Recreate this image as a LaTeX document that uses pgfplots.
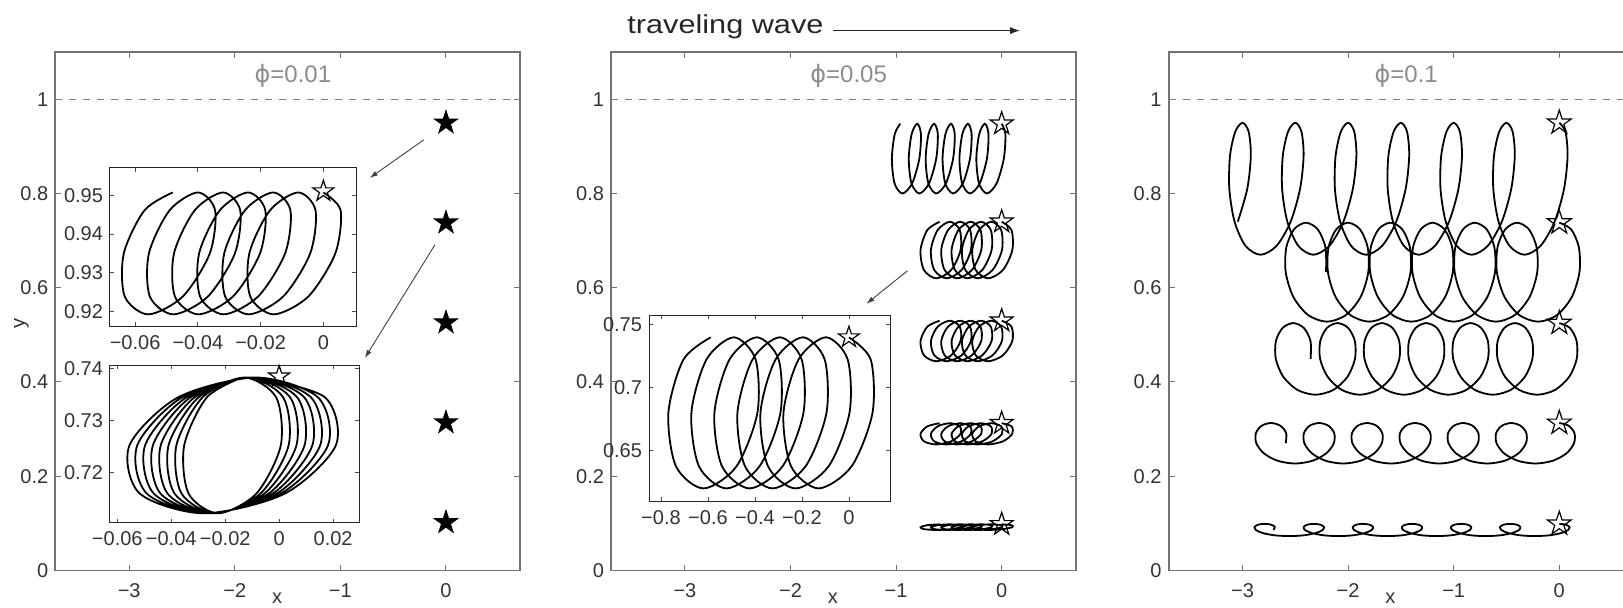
\documentclass[border=0pt]{standalone}
\usepackage{pgfplots}
\pgfplotsset{compat=1.18}
\usepackage{pgfplotstable}
\usepackage{graphicx}
\usepackage{fontspec}
\setmainfont{Liberation Sans}
\newfontfamily\dvs{DejaVu Sans}
\usetikzlibrary{arrows.meta}

\newcommand\starpath{%
 \pgfpathmoveto{\pgfqpoint{0pt}{\pgfplotmarksize}}%
 \pgfpathlineto{\pgfqpoint{0.2245\pgfplotmarksize}{0.3090\pgfplotmarksize}}%
 \pgfpathlineto{\pgfqpoint{0.9511\pgfplotmarksize}{0.3090\pgfplotmarksize}}%
 \pgfpathlineto{\pgfqpoint{0.3633\pgfplotmarksize}{-0.1180\pgfplotmarksize}}%
 \pgfpathlineto{\pgfqpoint{0.5878\pgfplotmarksize}{-0.8090\pgfplotmarksize}}%
 \pgfpathlineto{\pgfqpoint{0pt}{-0.382\pgfplotmarksize}}%
 \pgfpathlineto{\pgfqpoint{-0.5878\pgfplotmarksize}{-0.8090\pgfplotmarksize}}%
 \pgfpathlineto{\pgfqpoint{-0.3633\pgfplotmarksize}{-0.1180\pgfplotmarksize}}%
 \pgfpathlineto{\pgfqpoint{-0.9511\pgfplotmarksize}{0.3090\pgfplotmarksize}}%
 \pgfpathlineto{\pgfqpoint{-0.2245\pgfplotmarksize}{0.3090\pgfplotmarksize}}%
 \pgfpathclose}
\pgfdeclareplotmark{pstar}{\starpath\pgfusepathqfillstroke}
\pgfdeclareplotmark{ostar}{\starpath\pgfusepathqstroke}

\tikzset{
 ttl/.style={text=black!45, font=\fontsize{12}{14}\selectfont},
 lbl/.style={text=black!80, font=\fontsize{10}{12}\selectfont},
}
\pgfplotsset{
 mainax/.style={scale only axis, width=232.3pt, height=259.2pt, anchor=south west,
   clip=false,
   xmin=-3.7, xmax=0.7, ymin=0, ymax=1.1,
   xtick={-3,-2,-1,0}, xticklabels={−3,−2,−1,0},
   ytick={0,0.2,0.4,0.6,0.8,1}, yticklabels={0,0.2,0.4,0.6,0.8,1},
   tick align=inside, major tick length=3pt,
   axis line style={black!55, line width=0.9pt},
   tick style={black!55, line width=0.5pt},
   tick label style={font=\fontsize{10}{12}\selectfont, text=black!80},
   xticklabel style={yshift=-3pt},
 },
 insetax/.style={scale only axis, anchor=south west, clip=false,
   scaled ticks=false,
   axis background/.style={fill=white},
   tick align=inside, major tick length=2pt,
   axis line style={black!85, line width=0.5pt},
   tick style={black!70, line width=0.4pt},
   tick label style={font=\fontsize{10}{12}\selectfont, text=black!80},
   xticklabel style={yshift=-1pt},
 },
 traj/.style={black, line width=0.9pt, smooth, no markers},
 dashone/.style={black!50, line width=0.5pt, dash pattern=on 3.5pt off 3.5pt},
}

% panel 2: common x for trajectories 2-5, y for each
\pgfplotstableread[row sep=\\]{
x y2 y3 y4 y5\\
0 0.74 0.53 0.3125 0.098\\
0.0928 0.7224 0.5174 0.3059 0.0962\\
0.1005 0.68 0.487 0.29 0.092\\
0.0117 0.6376 0.4566 0.2741 0.0878\\
-0.129 0.62 0.444 0.2675 0.086\\
-0.2463 0.6376 0.4566 0.2741 0.0878\\
-0.2785 0.68 0.487 0.29 0.092\\
-0.2142 0.7224 0.5174 0.3059 0.0962\\
-0.098 0.74 0.53 0.3125 0.098\\
-0.0052 0.7224 0.5174 0.3059 0.0962\\
0.0025 0.68 0.487 0.29 0.092\\
-0.0863 0.6376 0.4566 0.2741 0.0878\\
-0.227 0.62 0.444 0.2675 0.086\\
-0.3443 0.6376 0.4566 0.2741 0.0878\\
-0.3765 0.68 0.487 0.29 0.092\\
-0.3122 0.7224 0.5174 0.3059 0.0962\\
-0.196 0.74 0.53 0.3125 0.098\\
-0.1032 0.7224 0.5174 0.3059 0.0962\\
-0.0955 0.68 0.487 0.29 0.092\\
-0.1843 0.6376 0.4566 0.2741 0.0878\\
-0.325 0.62 0.444 0.2675 0.086\\
-0.4423 0.6376 0.4566 0.2741 0.0878\\
-0.4745 0.68 0.487 0.29 0.092\\
-0.4102 0.7224 0.5174 0.3059 0.0962\\
-0.294 0.74 0.53 0.3125 0.098\\
-0.2012 0.7224 0.5174 0.3059 0.0962\\
-0.1935 0.68 0.487 0.29 0.092\\
-0.2823 0.6376 0.4566 0.2741 0.0878\\
-0.423 0.62 0.444 0.2675 0.086\\
-0.5403 0.6376 0.4566 0.2741 0.0878\\
-0.5725 0.68 0.487 0.29 0.092\\
-0.5082 0.7224 0.5174 0.3059 0.0962\\
-0.392 0.74 0.53 0.3125 0.098\\
-0.2992 0.7224 0.5174 0.3059 0.0962\\
-0.2915 0.68 0.487 0.29 0.092\\
-0.3803 0.6376 0.4566 0.2741 0.0878\\
-0.521 0.62 0.444 0.2675 0.086\\
-0.6383 0.6376 0.4566 0.2741 0.0878\\
-0.6705 0.68 0.487 0.29 0.092\\
-0.6062 0.7224 0.5174 0.3059 0.0962\\
-0.49 0.74 0.53 0.3125 0.098\\
-0.3972 0.7224 0.5174 0.3059 0.0962\\
-0.3895 0.68 0.487 0.29 0.092\\
-0.4783 0.6376 0.4566 0.2741 0.0878\\
-0.619 0.62 0.444 0.2675 0.086\\
-0.7363 0.6376 0.4566 0.2741 0.0878\\
-0.7685 0.68 0.487 0.29 0.092\\
-0.7042 0.7224 0.5174 0.3059 0.0962\\
-0.588 0.74 0.53 0.3125 0.098\\
}\ptwo

\begin{document}
\begin{tikzpicture}

%================ PANEL 1 =================
\begin{axis}[mainax, at={(27.65pt,18.25pt)}]
\addplot[dashone] coordinates {(-3.7,1) (0.7,1)};
\addplot[only marks, mark=pstar, mark size=6pt, mark options={fill=black, draw=black, line width=0.5pt}]
 coordinates {(0,0.95) (0,0.738) (0,0.526) (0,0.314) (0,0.102)};
\node[ttl] at (axis cs:-1.45,1.05) {{\dvs ϕ}=0.01};
\node[lbl, anchor=base] at (axis cs:-1.6,-0.071) {x};
\node[lbl, rotate=90] at (axis cs:-4.02,0.525) {y};
\draw[-{Latex[length=4pt,width=2.6pt]}, black!75, line width=0.45pt] (axis cs:-0.209,0.914) -- (axis cs:-0.722,0.833);
\draw[-{Latex[length=4pt,width=2.6pt]}, black!75, line width=0.45pt] (axis cs:-0.105,0.691) -- (axis cs:-0.768,0.451);
\end{axis}

\begin{axis}[insetax, at={(55pt,140.5pt)}, width=123pt, height=79pt,
  xmin=-0.068, xmax=0.0104, ymin=0.9163, ymax=0.957,
  xtick={-0.06,-0.04,-0.02,0}, xticklabels={−0.06,−0.04,−0.02,0},
  ytick={0.92,0.93,0.94,0.95}, yticklabels={0.92,0.93,0.94,0.95}]
\addplot[traj] coordinates {
(0,0.9507) (0.0055,0.9461) (0.0038,0.935) (-0.0048,0.9239) (-0.0158,0.9193) (-0.0233,0.9239) (-0.0236,0.935) (-0.0170,0.9461)
(-0.008,0.9507) (-0.0025,0.9461) (-0.0042,0.935) (-0.0128,0.9239) (-0.0238,0.9193) (-0.0313,0.9239) (-0.0316,0.935) (-0.0250,0.9461)
(-0.016,0.9507) (-0.0105,0.9461) (-0.0122,0.935) (-0.0208,0.9239) (-0.0318,0.9193) (-0.0393,0.9239) (-0.0396,0.935) (-0.0330,0.9461)
(-0.024,0.9507) (-0.0185,0.9461) (-0.0202,0.935) (-0.0288,0.9239) (-0.0398,0.9193) (-0.0473,0.9239) (-0.0476,0.935) (-0.0410,0.9461)
(-0.032,0.9507) (-0.0265,0.9461) (-0.0282,0.935) (-0.0368,0.9239) (-0.0478,0.9193) (-0.0553,0.9239) (-0.0556,0.935) (-0.0490,0.9461)
(-0.040,0.9507) (-0.0345,0.9461) (-0.0362,0.935) (-0.0448,0.9239) (-0.0558,0.9193) (-0.0633,0.9239) (-0.0636,0.935) (-0.0570,0.9461)
(-0.048,0.9507)};
\addplot[only marks, mark=ostar, mark size=5.5pt, mark options={line width=0.6pt}] coordinates {(0,0.951)};
\end{axis}

\begin{axis}[insetax, at={(55pt,42.15pt)}, width=124.5pt, height=78.85pt,
  xmin=-0.0627, xmax=0.0296, ymin=0.7104, ymax=0.7406,
  xtick={-0.06,-0.04,-0.02,0,0.02}, xticklabels={−0.06,−0.04,−0.02,0,0.02},
  ytick={0.72,0.73,0.74}, yticklabels={0.72,0.73,0.74}]
\addplot[traj] coordinates {
(-0.0078,0.7382) (0.0170,0.7344) (0.0210,0.7252) (0.0022,0.7160) (-0.0279,0.7122) (-0.0517,0.7160) (-0.0555,0.7252) (-0.0375,0.7344)
(-0.0085,0.7382) (0.0144,0.7344) (0.0181,0.7252) (0.0007,0.7160) (-0.0271,0.7122) (-0.0491,0.7160) (-0.0526,0.7252) (-0.0360,0.7344)
(-0.0093,0.7382) (0.0118,0.7344) (0.0152,0.7252) (-0.0008,0.7160) (-0.0264,0.7122) (-0.0465,0.7160) (-0.0497,0.7252) (-0.0344,0.7344)
(-0.0100,0.7382) (0.0093,0.7344) (0.0123,0.7252) (-0.0023,0.7160) (-0.0256,0.7122) (-0.0440,0.7160) (-0.0468,0.7252) (-0.0329,0.7344)
(-0.0108,0.7382) (0.0067,0.7344) (0.0094,0.7252) (-0.0038,0.7160) (-0.0249,0.7122) (-0.0414,0.7160) (-0.0439,0.7252) (-0.0314,0.7344)
(-0.0115,0.7382) (0.0041,0.7344) (0.0064,0.7252) (-0.0054,0.7160) (-0.0241,0.7122) (-0.0388,0.7160) (-0.0410,0.7252) (-0.0299,0.7344)
(-0.0123,0.7382) (0.0015,0.7344) (0.0035,0.7252) (-0.0069,0.7160) (-0.0234,0.7122) (-0.0362,0.7160) (-0.0381,0.7252) (-0.0284,0.7344)
(-0.0130,0.7382) (-0.0011,0.7344) (0.0006,0.7252) (-0.0084,0.7160) (-0.0226,0.7122) (-0.0336,0.7160) (-0.0352,0.7252) (-0.0268,0.7344)
(-0.0138,0.7382)};
\addplot[only marks, mark=ostar, mark size=5.5pt, mark options={line width=0.6pt}] coordinates {(0,0.7384)};
\end{axis}

%================ PANEL 2 =================
\begin{axis}[mainax, at={(305.5pt,18.25pt)}]
\addplot[dashone] coordinates {(-3.7,1) (0.7,1)};
\addplot[traj] coordinates {
(0,0.948) (0.0349,0.9263) (0.02,0.874) (-0.0476,0.8217) (-0.14,0.80) (-0.2149,0.8217) (-0.24,0.874) (-0.2124,0.9263)
(-0.16,0.948) (-0.1251,0.9263) (-0.14,0.874) (-0.2076,0.8217) (-0.30,0.80) (-0.3749,0.8217) (-0.40,0.874) (-0.3724,0.9263)
(-0.32,0.948) (-0.2851,0.9263) (-0.30,0.874) (-0.3676,0.8217) (-0.46,0.80) (-0.5349,0.8217) (-0.56,0.874) (-0.5324,0.9263)
(-0.48,0.948) (-0.4451,0.9263) (-0.46,0.874) (-0.5276,0.8217) (-0.62,0.80) (-0.6949,0.8217) (-0.72,0.874) (-0.6924,0.9263)
(-0.64,0.948) (-0.6051,0.9263) (-0.62,0.874) (-0.6876,0.8217) (-0.78,0.80) (-0.8549,0.8217) (-0.88,0.874) (-0.8524,0.9263)
(-0.80,0.948) (-0.7651,0.9263) (-0.78,0.874) (-0.8476,0.8217) (-0.94,0.80) (-1.0149,0.8217) (-1.04,0.874) (-1.0124,0.9263)
(-0.96,0.948)};
\addplot[traj] table[x=x,y=y2] {\ptwo};
\addplot[traj] table[x=x,y=y3] {\ptwo};
\addplot[traj] table[x=x,y=y4] {\ptwo};
\addplot[traj] table[x=x,y=y5] {\ptwo};
\addplot[only marks, mark=ostar, mark size=6pt, mark options={line width=0.6pt}]
 coordinates {(0,0.948) (0,0.74) (0,0.53) (0,0.3125) (0,0.098)};
\node[ttl] at (axis cs:-1.45,1.05) {{\dvs ϕ}=0.05};
\node[lbl, anchor=base] at (axis cs:-1.6,-0.071) {x};
\draw[-{Latex[length=4pt,width=2.6pt]}, black!75, line width=0.45pt] (axis cs:-0.892,0.636) -- (axis cs:-1.281,0.566);
\end{axis}

\begin{axis}[insetax, at={(324.5pt,53pt)}, width=120.5pt, height=93pt,
  xmin=-0.851, xmax=0.175, ymin=0.610, ymax=0.7577,
  xtick={-0.8,-0.6,-0.4,-0.2,0}, xticklabels={−0.8,−0.6,−0.4,−0.2,0},
  ytick={0.65,0.7,0.75}, yticklabels={0.65,0.7,0.75}]
\addplot[traj] table[x=x,y=y2] {\ptwo};
\addplot[only marks, mark=ostar, mark size=5.5pt, mark options={line width=0.6pt}] coordinates {(0,0.74)};
\end{axis}

%================ PANEL 3 =================
\begin{axis}[mainax, at={(584.3pt,18.25pt)}]
\addplot[dashone] coordinates {(-3.7,1) (0.7,1)};
% row 1
\addplot[traj] coordinates {
(0,0.95) (0.058,0.9312) (0.0785,0.88) (0.045,0.81) (-0.0448,0.74) (-0.178,0.6888) (-0.33,0.67) (-0.4713,0.6888) (-0.5752,0.74) (-0.625,0.81) (-0.6185,0.88) (-0.5687,0.9312)
(-0.5,0.95) (-0.442,0.9312) (-0.4215,0.88) (-0.455,0.81) (-0.5448,0.74) (-0.678,0.6888) (-0.83,0.67) (-0.9713,0.6888) (-1.0752,0.74) (-1.125,0.81) (-1.1185,0.88) (-1.0687,0.9312)
(-1.0,0.95) (-0.942,0.9312) (-0.9215,0.88) (-0.955,0.81) (-1.0448,0.74) (-1.178,0.6888) (-1.33,0.67) (-1.4713,0.6888) (-1.5752,0.74) (-1.625,0.81) (-1.6185,0.88) (-1.5687,0.9312)
(-1.5,0.95) (-1.442,0.9312) (-1.4215,0.88) (-1.455,0.81) (-1.5448,0.74) (-1.678,0.6888) (-1.83,0.67) (-1.9713,0.6888) (-2.0752,0.74) (-2.125,0.81) (-2.1185,0.88) (-2.0687,0.9312)
(-2.0,0.95) (-1.942,0.9312) (-1.9215,0.88) (-1.955,0.81) (-2.0448,0.74) (-2.178,0.6888) (-2.33,0.67) (-2.4713,0.6888) (-2.5752,0.74) (-2.625,0.81) (-2.6185,0.88) (-2.5687,0.9312)
(-2.5,0.95) (-2.442,0.9312) (-2.4215,0.88) (-2.455,0.81) (-2.5448,0.74) (-2.678,0.6888) (-2.83,0.67) (-2.9713,0.6888) (-3.0752,0.74) (-3.125,0.81) (-3.1185,0.88) (-3.0687,0.9312)
(-3.0,0.95) (-2.942,0.9312) (-2.9215,0.88) (-2.955,0.81) (-3.0448,0.74)};
% row 2
\addplot[traj] coordinates {
(0,0.738) (0.1122,0.7239) (0.1853,0.6855) (0.191,0.633) (0.1187,0.5805) (-0.0212,0.5421) (-0.2,0.528) (-0.3788,0.5421) (-0.5187,0.5805) (-0.591,0.633) (-0.5853,0.6855) (-0.5122,0.7239)
(-0.4,0.738) (-0.2878,0.7239) (-0.2147,0.6855) (-0.209,0.633) (-0.2813,0.5805) (-0.4212,0.5421) (-0.6,0.528) (-0.7788,0.5421) (-0.9187,0.5805) (-0.991,0.633) (-0.9853,0.6855) (-0.9122,0.7239)
(-0.8,0.738) (-0.6878,0.7239) (-0.6147,0.6855) (-0.609,0.633) (-0.6813,0.5805) (-0.8212,0.5421) (-1.0,0.528) (-1.1788,0.5421) (-1.3187,0.5805) (-1.391,0.633) (-1.3853,0.6855) (-1.3122,0.7239)
(-1.2,0.738) (-1.0878,0.7239) (-1.0147,0.6855) (-1.009,0.633) (-1.0813,0.5805) (-1.2212,0.5421) (-1.4,0.528) (-1.5788,0.5421) (-1.7187,0.5805) (-1.791,0.633) (-1.7853,0.6855) (-1.7122,0.7239)
(-1.6,0.738) (-1.4878,0.7239) (-1.4147,0.6855) (-1.409,0.633) (-1.4813,0.5805) (-1.6212,0.5421) (-1.8,0.528) (-1.9788,0.5421) (-2.1187,0.5805) (-2.191,0.633) (-2.1853,0.6855) (-2.1122,0.7239)
(-2.0,0.738) (-1.8878,0.7239) (-1.8147,0.6855) (-1.809,0.633) (-1.8813,0.5805) (-2.0212,0.5421) (-2.2,0.528) (-2.3788,0.5421) (-2.5187,0.5805) (-2.591,0.633) (-2.5853,0.6855) (-2.5122,0.7239)
(-2.4,0.738) (-2.2878,0.7239) (-2.2147,0.6855) (-2.209,0.633)};
% row 3
\addplot[traj] coordinates {
(0,0.525) (0.1,0.5148) (0.1638,0.487) (0.165,0.449) (0.0938,0.411) (-0.04,0.3832) (-0.21,0.373) (-0.38,0.3832) (-0.5138,0.411) (-0.585,0.449) (-0.5838,0.487) (-0.52,0.5148)
(-0.42,0.525) (-0.32,0.5148) (-0.2562,0.487) (-0.255,0.449) (-0.3262,0.411) (-0.46,0.3832) (-0.63,0.373) (-0.80,0.3832) (-0.9338,0.411) (-1.005,0.449) (-1.0038,0.487) (-0.94,0.5148)
(-0.84,0.525) (-0.74,0.5148) (-0.6762,0.487) (-0.675,0.449) (-0.7462,0.411) (-0.88,0.3832) (-1.05,0.373) (-1.22,0.3832) (-1.3538,0.411) (-1.425,0.449) (-1.4238,0.487) (-1.36,0.5148)
(-1.26,0.525) (-1.16,0.5148) (-1.0962,0.487) (-1.095,0.449) (-1.1662,0.411) (-1.30,0.3832) (-1.47,0.373) (-1.64,0.3832) (-1.7738,0.411) (-1.845,0.449) (-1.8438,0.487) (-1.78,0.5148)
(-1.68,0.525) (-1.58,0.5148) (-1.5162,0.487) (-1.515,0.449) (-1.5862,0.411) (-1.72,0.3832) (-1.89,0.373) (-2.06,0.3832) (-2.1938,0.411) (-2.265,0.449) (-2.2638,0.487) (-2.20,0.5148)
(-2.10,0.525) (-2.00,0.5148) (-1.9362,0.487) (-1.935,0.449) (-2.0062,0.411) (-2.14,0.3832) (-2.31,0.373) (-2.48,0.3832) (-2.6138,0.411) (-2.685,0.449) (-2.6838,0.487) (-2.62,0.5148)
(-2.52,0.525) (-2.42,0.5148) (-2.3562,0.487) (-2.355,0.449)};
% row 4
\addplot[traj] coordinates {
(0,0.313) (0.0886,0.3072) (0.1433,0.2915) (0.1393,0.27) (0.0674,0.2485) (-0.0631,0.2328) (-0.2275,0.227) (-0.3919,0.2328) (-0.5224,0.2485) (-0.5943,0.27) (-0.5983,0.2915) (-0.5436,0.3072)
(-0.455,0.313) (-0.3664,0.3072) (-0.3117,0.2915) (-0.3157,0.27) (-0.3876,0.2485) (-0.5181,0.2328) (-0.6825,0.227) (-0.8469,0.2328) (-0.9774,0.2485) (-1.0493,0.27) (-1.0533,0.2915) (-0.9986,0.3072)
(-0.91,0.313) (-0.8214,0.3072) (-0.7667,0.2915) (-0.7707,0.27) (-0.8426,0.2485) (-0.9731,0.2328) (-1.1375,0.227) (-1.3019,0.2328) (-1.4324,0.2485) (-1.5043,0.27) (-1.5083,0.2915) (-1.4536,0.3072)
(-1.365,0.313) (-1.2764,0.3072) (-1.2217,0.2915) (-1.2257,0.27) (-1.2976,0.2485) (-1.4281,0.2328) (-1.5925,0.227) (-1.7569,0.2328) (-1.8874,0.2485) (-1.9593,0.27) (-1.9633,0.2915) (-1.9086,0.3072)
(-1.82,0.313) (-1.7314,0.3072) (-1.6767,0.2915) (-1.6807,0.27) (-1.7526,0.2485) (-1.8831,0.2328) (-2.0475,0.227) (-2.2119,0.2328) (-2.3424,0.2485) (-2.4143,0.27) (-2.4183,0.2915) (-2.3636,0.3072)
(-2.275,0.313) (-2.1864,0.3072) (-2.1317,0.2915) (-2.1357,0.27) (-2.2076,0.2485) (-2.3381,0.2328) (-2.5025,0.227) (-2.6669,0.2328) (-2.7974,0.2485) (-2.8693,0.27) (-2.8733,0.2915) (-2.8186,0.3072)
(-2.73,0.313) (-2.6414,0.3072) (-2.5867,0.2915) (-2.5907,0.27)};
% row 5
\addplot[traj] coordinates {
(0,0.099) (0.0613,0.0973) (0.0957,0.0925) (0.0838,0.086) (0.0182,0.0795) (-0.0938,0.0747) (-0.2325,0.073) (-0.3713,0.0747) (-0.4832,0.0795) (-0.5488,0.086) (-0.5607,0.0925) (-0.5263,0.0973)
(-0.465,0.099) (-0.4037,0.0973) (-0.3693,0.0925) (-0.3812,0.086) (-0.4468,0.0795) (-0.5588,0.0747) (-0.6975,0.073) (-0.8363,0.0747) (-0.9482,0.0795) (-1.0138,0.086) (-1.0257,0.0925) (-0.9913,0.0973)
(-0.93,0.099) (-0.8687,0.0973) (-0.8343,0.0925) (-0.8462,0.086) (-0.9118,0.0795) (-1.0238,0.0747) (-1.1625,0.073) (-1.3013,0.0747) (-1.4132,0.0795) (-1.4788,0.086) (-1.4907,0.0925) (-1.4563,0.0973)
(-1.395,0.099) (-1.3337,0.0973) (-1.2993,0.0925) (-1.3112,0.086) (-1.3768,0.0795) (-1.4888,0.0747) (-1.6275,0.073) (-1.7663,0.0747) (-1.8782,0.0795) (-1.9438,0.086) (-1.9557,0.0925) (-1.9213,0.0973)
(-1.86,0.099) (-1.7987,0.0973) (-1.7643,0.0925) (-1.7762,0.086) (-1.8418,0.0795) (-1.9538,0.0747) (-2.0925,0.073) (-2.2313,0.0747) (-2.3432,0.0795) (-2.4088,0.086) (-2.4207,0.0925) (-2.3863,0.0973)
(-2.325,0.099) (-2.2637,0.0973) (-2.2293,0.0925) (-2.2412,0.086) (-2.3068,0.0795) (-2.4188,0.0747) (-2.5575,0.073) (-2.6963,0.0747) (-2.8082,0.0795) (-2.8738,0.086) (-2.8857,0.0925) (-2.8513,0.0973)
(-2.79,0.099) (-2.7287,0.0973) (-2.6943,0.0925) (-2.7062,0.086)};
\addplot[only marks, mark=ostar, mark size=6.3pt, mark options={line width=0.6pt}]
 coordinates {(0,0.95) (0,0.738) (0,0.525) (0,0.313) (0,0.099)};
\node[ttl] at (axis cs:-1.45,1.05) {{\dvs ϕ}=0.1};
\node[lbl, anchor=base] at (axis cs:-1.6,-0.071) {x};
\end{axis}

% traveling wave label
\node[anchor=base west, inner sep=0pt, text=black!85, font=\fontsize{13}{15}\selectfont] at (313.5pt,286.85pt) {\scalebox{1.18}[1]{traveling wave}};
\draw[-{Latex[length=5pt,width=3.5pt]}, line width=0.5pt, black!85] (416.5pt,288.2pt) -- (510pt,288.2pt);

\pgfresetboundingbox
\path[use as bounding box] (0,0) rectangle (811.5pt,303.5pt);
\end{tikzpicture}
\end{document}
